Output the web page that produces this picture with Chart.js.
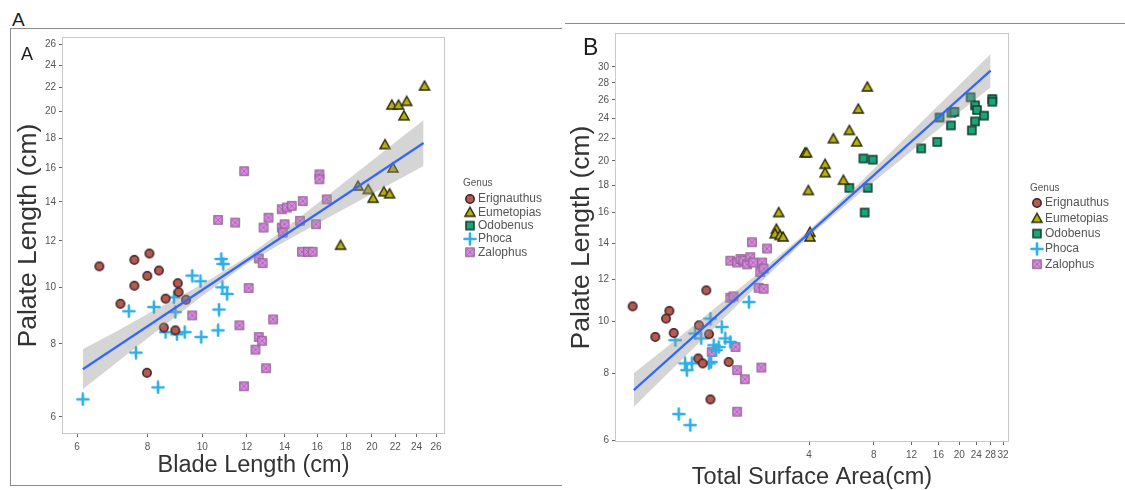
<!DOCTYPE html>
<html>
<head>
<meta charset="utf-8">
<script src="https://cdn.jsdelivr.net/npm/chart.js@4.4.1/dist/chart.umd.min.js"></script>
<style>
  html, body { margin: 0; padding: 0; background: #fff; }
  body { width: 1125px; height: 490px; position: relative; overflow: hidden; font-family: "Liberation Sans", Arial, sans-serif; }
  .box { position: absolute; }
  .rule { position: absolute; background: #8c8c8c; }
  .lbl { position: absolute; color: #1c1c1c; line-height: 1; }
</style>
</head>
<body>
<div class="lbl" style="left:12px;top:10px;font-size:19px;">A</div>
<div class="rule" style="left:10px;top:28px;width:552px;height:1px;"></div>
<div class="rule" style="left:10px;top:28px;width:1px;height:458px;"></div>
<div class="rule" style="left:10px;top:485px;width:552px;height:1px;"></div>
<div class="rule" style="left:565px;top:23px;width:560px;height:1px;"></div>

<div class="box" style="left:0;top:28px;width:563px;height:458px;"><canvas id="chartA"></canvas></div>
<div class="box" style="left:563px;top:24px;width:562px;height:466px;"><canvas id="chartB"></canvas></div>

<div class="lbl" style="left:21px;top:45px;font-size:18px;">A</div>
<div class="lbl" style="left:583px;top:36px;font-size:23px;">B</div>

<script>
Chart.defaults.font.family = '"Liberation Sans", Arial, Helvetica, sans-serif';

const genera = ['Erignauthus', 'Eumetopias', 'Odobenus', 'Phoca', 'Zalophus'];

// ---- panel A: blade length vs palate length ----
const ticksA_x = [6, 8, 10, 12, 14, 16, 18, 20, 22, 24, 26];
const ticksA_y = [6, 8, 10, 12, 14, 16, 18, 20, 22, 24, 26];

const erigA_x = [6.57, 7.58, 8.06, 7.99, 8.38, 7.58, 7.16, 9.05, 9.08, 8.61, 9.36, 8.55, 8.96, 7.98];
const erigA_y = [10.86, 11.14, 11.42, 10.46, 10.68, 10.06, 9.37, 10.16, 9.81, 9.56, 9.52, 8.53, 8.44, 7.14];

const eumeA_x = [24.8, 21.7, 22.3, 23.06, 22.8, 21.1, 21.8, 18.9, 19.7, 20.1, 21.0, 21.5, 17.6];
const eumeA_y = [22.1, 20.5, 20.5, 20.8, 19.65, 17.54, 16.0, 14.9, 14.7, 14.2, 14.57, 14.45, 11.8];

const odobA_x = [];
const odobA_y = [];

const phocA_x = [6.14, 7.41, 7.63, 8.35, 8.21, 8.61, 8.91, 8.96, 9.02, 9.31, 9.6, 9.93, 9.96, 10.67, 10.71, 10.81, 10.9, 10.86, 11.07];
const phocA_y = [6.43, 9.1, 7.73, 6.74, 9.25, 8.38, 9.61, 9.07, 8.31, 8.38, 10.47, 10.24, 8.22, 8.44, 9.16, 11.18, 10.96, 10.0, 9.74];

const zaloA_x = [9.6, 12.09, 11.64, 12.43, 11.86, 12.6, 12.77, 13.36, 12.98, 12.6, 12.8, 15.03, 15.4, 15.7, 11.87, 10.67,
                 11.44, 12.85, 13.11, 13.84, 14.13, 14.42, 15.08, 13.84, 14.0, 13.9, 14.91, 15.92, 16.14, 16.14, 16.63];
const zaloA_y = [8.95, 9.97, 8.61, 7.82, 6.77, 8.22, 8.1, 8.81, 7.27, 11.2, 11.0, 11.5, 11.5, 11.5, 15.8, 13.04,
                 12.9, 12.65, 13.15, 13.6, 13.69, 13.78, 14.04, 12.65, 12.82, 12.4, 12.99, 12.82, 15.6, 15.3, 14.14];

// fitted line and its confidence band
const fitA_x = [6.14, 24.7];
const fitA_y = [7.24, 17.65];
const bandA_x = [6.14, 7, 8, 10, 12, 14, 17, 21, 24.7];
const bandA_hi = [7.83, 8.38, 9.0, 10.12, 11.28, 12.58, 14.56, 17.08, 19.32];
const bandA_lo = [6.69, 7.39, 8.18, 9.66, 10.97, 11.96, 13.27, 14.81, 16.12];

// ---- panel B: total surface area vs palate length ----
const ticksB_x = [4, 8, 12, 16, 20, 24, 28, 32];
const ticksB_y = [6, 8, 10, 12, 14, 16, 18, 20, 22, 24, 26, 28, 30];

const erigB_x = [0.604, 0.895, 0.864, 0.77, 0.938, 1.33, 1.23, 1.37, 1.22, 1.28, 1.69, 1.39];
const erigB_y = [10.68, 10.47, 10.13, 9.36, 9.52, 11.44, 9.84, 9.47, 8.53, 8.35, 8.4, 7.15];

const eumeB_x = [7.47, 6.78, 6.16, 6.67, 5.19, 3.83, 3.9, 4.75, 4.75, 5.78, 3.97, 2.89, 2.82, 2.78, 2.93, 3.03, 4.04, 4.04];
const eumeB_y = [27.5, 25.0, 22.8, 21.7, 22.0, 20.7, 20.7, 19.7, 19.0, 18.4, 17.6, 16.0, 14.9, 14.6, 14.5, 14.4, 14.7, 14.4];

const odobB_x = [7.16, 7.92, 6.16, 7.5, 7.26, 13.3, 15.8, 16.2, 18.3, 18.4, 19.0, 22.6, 23.7, 24.2, 26.1, 23.7, 22.9, 28.5, 28.5];
const odobB_y = [20.2, 20.1, 17.8, 17.8, 16.0, 21.1, 21.7, 24.1, 23.3, 24.6, 24.7, 26.3, 25.4, 24.9, 24.3, 23.7, 22.8, 26.1, 25.8];

const phocB_x = [0.99, 1.12, 0.955, 1.06, 1.08, 1.14, 1.18, 1.26, 1.39, 1.37, 1.4, 1.44, 1.52, 1.48, 1.57, 1.63, 1.72, 2.1];
const phocB_y = [6.71, 6.4, 9.23, 8.35, 8.11, 8.35, 9.5, 9.3, 10.13, 8.35, 8.4, 9.03, 8.96, 8.84, 9.77, 9.3, 9.16, 10.88];

const zaloB_x = [1.85, 1.85, 2.01, 2.4, 1.82, 1.41, 1.72, 1.78, 2.33, 2.46, 1.72, 1.85, 1.92, 1.98, 2.06, 2.13, 2.2, 2.42, 2.17, 2.55, 2.37, 2.46];
const zaloB_y = [6.78, 8.11, 7.8, 8.2, 8.96, 8.77, 11.08, 11.15, 11.57, 11.52, 13.0, 12.9, 13.1, 13.0, 12.8, 13.2, 12.9, 12.9, 14.08, 13.7, 12.38, 12.57];

const fitB_x = [0.611, 28];
const fitB_y = [7.44, 29.5];
const bandB_x = [0.611, 1, 1.5, 2.5, 4, 7, 12, 20, 28];
const bandB_hi = [8.0, 9.37, 10.69, 12.63, 14.82, 18.32, 22.67, 27.74, 31.7];
const bandB_lo = [6.92, 8.41, 9.88, 12.07, 14.44, 17.49, 20.87, 24.62, 27.45];

// small canvases used as point symbols (ggplot-like shapes)
function makeMarker(kind, fill, stroke) {
  const s = 14;
  const c = document.createElement('canvas');
  c.width = s; c.height = s;
  const g = c.getContext('2d');
  g.translate(s / 2, s / 2);
  g.fillStyle = fill;
  g.strokeStyle = stroke;
  g.lineWidth = 1.5;
  if (kind === 'circle') {
    g.beginPath(); g.arc(0, 0, 4.2, 0, Math.PI * 2); g.fill(); g.stroke();
  } else if (kind === 'triangle') {
    g.beginPath(); g.moveTo(0, -5); g.lineTo(5, 4); g.lineTo(-5, 4); g.closePath(); g.fill(); g.stroke();
  } else if (kind === 'square') {
    g.fillRect(-4, -4, 8, 8); g.strokeRect(-4, -4, 8, 8);
  } else if (kind === 'plus') {
    g.lineWidth = 2.6; g.lineCap = 'round';
    g.beginPath(); g.moveTo(-5.5, 0); g.lineTo(5.5, 0); g.moveTo(0, -5.5); g.lineTo(0, 5.5); g.stroke();
  } else if (kind === 'xsquare') {
    g.fillRect(-4.2, -4.2, 8.4, 8.4);
    g.lineWidth = 1.2; g.strokeRect(-4.2, -4.2, 8.4, 8.4);
    g.lineWidth = 1; g.strokeStyle = '#a86aad';
    g.beginPath(); g.moveTo(-3, -3); g.lineTo(3, 3); g.moveTo(3, -3); g.lineTo(-3, 3); g.stroke();
  }
  return c;
}

const markers = [
  makeMarker('circle', '#b55a53', '#3c2220'),
  makeMarker('triangle', '#b5b014', '#2d2b05'),
  makeMarker('square', '#17a677', '#143a2c'),
  makeMarker('plus', '#2faee6', '#2faee6'),
  makeMarker('xsquare', '#de8ae5', '#8d6090')
];

function pts(xs, ys) {
  return xs.map((x, i) => ({ x: x, y: ys[i] }));
}

function buildDatasets(groups, fx, fy, bx, bhi, blo) {
  const sets = [
    { type: 'line', label: 'fit', data: pts(fx, fy), borderColor: '#3366ff', borderWidth: 2.2, pointRadius: 0, fill: false },
    { type: 'line', label: 'hi', data: pts(bx, bhi), borderWidth: 0, borderColor: 'rgba(0,0,0,0)', pointRadius: 0,
      fill: '+1', backgroundColor: 'rgba(150,150,150,0.4)' },
    { type: 'line', label: 'lo', data: pts(bx, blo), borderWidth: 0, borderColor: 'rgba(0,0,0,0)', pointRadius: 0, fill: false }
  ];
  groups.forEach((g, i) => {
    sets.push({ label: genera[i], data: pts(g[0], g[1]), pointStyle: markers[i], pointRadius: 5, showLine: false });
  });
  return sets;
}

// grey frame around the plotting panel
const panelBorder = {
  id: 'panelBorder',
  beforeDatasetsDraw(chart) {
    const { ctx, chartArea: a } = chart;
    ctx.save();
    ctx.strokeStyle = '#c9c9c9';
    ctx.lineWidth = 1;
    ctx.strokeRect(Math.round(a.left) + 0.5, Math.round(a.top) + 0.5, Math.round(a.width) - 1, Math.round(a.height) - 1);
    ctx.restore();
  }
};

// "Genus" legend to the right of the panel
const genusLegend = {
  id: 'genusLegend',
  afterDraw(chart, args, opts) {
    const ctx = chart.ctx;
    const x = chart.chartArea.right + opts.dx;
    ctx.save();
    ctx.fillStyle = '#555';
    ctx.textBaseline = 'middle';
    ctx.font = '10px "Liberation Sans", Arial, sans-serif';
    ctx.fillText('Genus', x, opts.top);
    ctx.font = '12px "Liberation Sans", Arial, sans-serif';
    genera.forEach((name, i) => {
      const y = opts.top + opts.first + i * opts.step;
      const m = markers[i];
      ctx.drawImage(m, x + 7 - m.width / 2, y - m.height / 2);
      ctx.fillText(name, x + 15, y);
    });
    ctx.restore();
  }
};

function logAxis(min, max, tickVals, title, fixSize, isX) {
  return {
    type: 'logarithmic',
    min: min,
    max: max,
    afterBuildTicks: s => { s.ticks = tickVals.map(v => ({ value: v })); },
    afterFit: s => { if (isX) s.height = fixSize; else s.width = fixSize; },
    ticks: { callback: v => String(v), autoSkip: false, maxRotation: 0, minRotation: 0,
             color: '#555', font: { size: 10 }, padding: isX ? 4 : 3 },
    grid: { drawOnChartArea: false, drawTicks: true, tickLength: 3, tickColor: '#666', color: '#666' },
    border: { display: false },
    title: title
  };
}

function makeChart(id, datasets, o) {
  return new Chart(document.getElementById(id), {
    type: 'scatter',
    data: { datasets: datasets },
    options: {
      responsive: true,
      maintainAspectRatio: false,
      animation: false,
      events: [],
      layout: { padding: { top: o.padTop, right: o.padRight, left: 0, bottom: 0 } },
      plugins: {
        legend: { display: false },
        tooltip: { enabled: false },
        genusLegend: o.legend
      },
      scales: { x: o.x, y: o.y }
    },
    plugins: [panelBorder, genusLegend]
  });
}

makeChart('chartA',
  buildDatasets([[erigA_x, erigA_y], [eumeA_x, eumeA_y], [odobA_x, odobA_y], [phocA_x, phocA_y], [zaloA_x, zaloA_y]],
                fitA_x, fitA_y, bandA_x, bandA_hi, bandA_lo),
  {
    padTop: 7, padRight: 118,
    legend: { dx: 18, top: 155, first: 16, step: 13.3 },
    x: logAxis(5.64, 26.96, ticksA_x,
      { display: true, text: 'Blade Length (cm)', color: '#333', font: { size: 23.5, lineHeight: 1 }, padding: { top: 0, bottom: 9 } }, 52, true),
    y: logAxis(5.61, 26.8, ticksA_y,
      { display: true, text: 'Palate Length (cm)', color: '#333', font: { size: 26.5, lineHeight: 1 }, padding: { top: 15, bottom: 0 } }, 62, false)
  });

makeChart('chartB',
  buildDatasets([[erigB_x, erigB_y], [eumeB_x, eumeB_y], [odobB_x, odobB_y], [phocB_x, phocB_y], [zaloB_x, zaloB_y]],
                fitB_x, fitB_y, bandB_x, bandB_hi, bandB_lo),
  {
    padTop: 8, padRight: 116,
    legend: { dx: 21, top: 164, first: 15, step: 15.3 },
    x: logAxis(0.5, 34.1, ticksB_x,
      { display: true, text: 'Total Surface Area(cm)', color: '#333', font: { size: 23.5, lineHeight: 1 }, padding: { top: 0, bottom: 1 } }, 48, true),
    y: logAxis(5.95, 34.7, ticksB_y,
      { display: true, text: 'Palate Length (cm)', color: '#333', font: { size: 26.5, lineHeight: 1 }, padding: { top: 5, bottom: 0 } }, 52, false)
  });
</script>
</body>
</html>
